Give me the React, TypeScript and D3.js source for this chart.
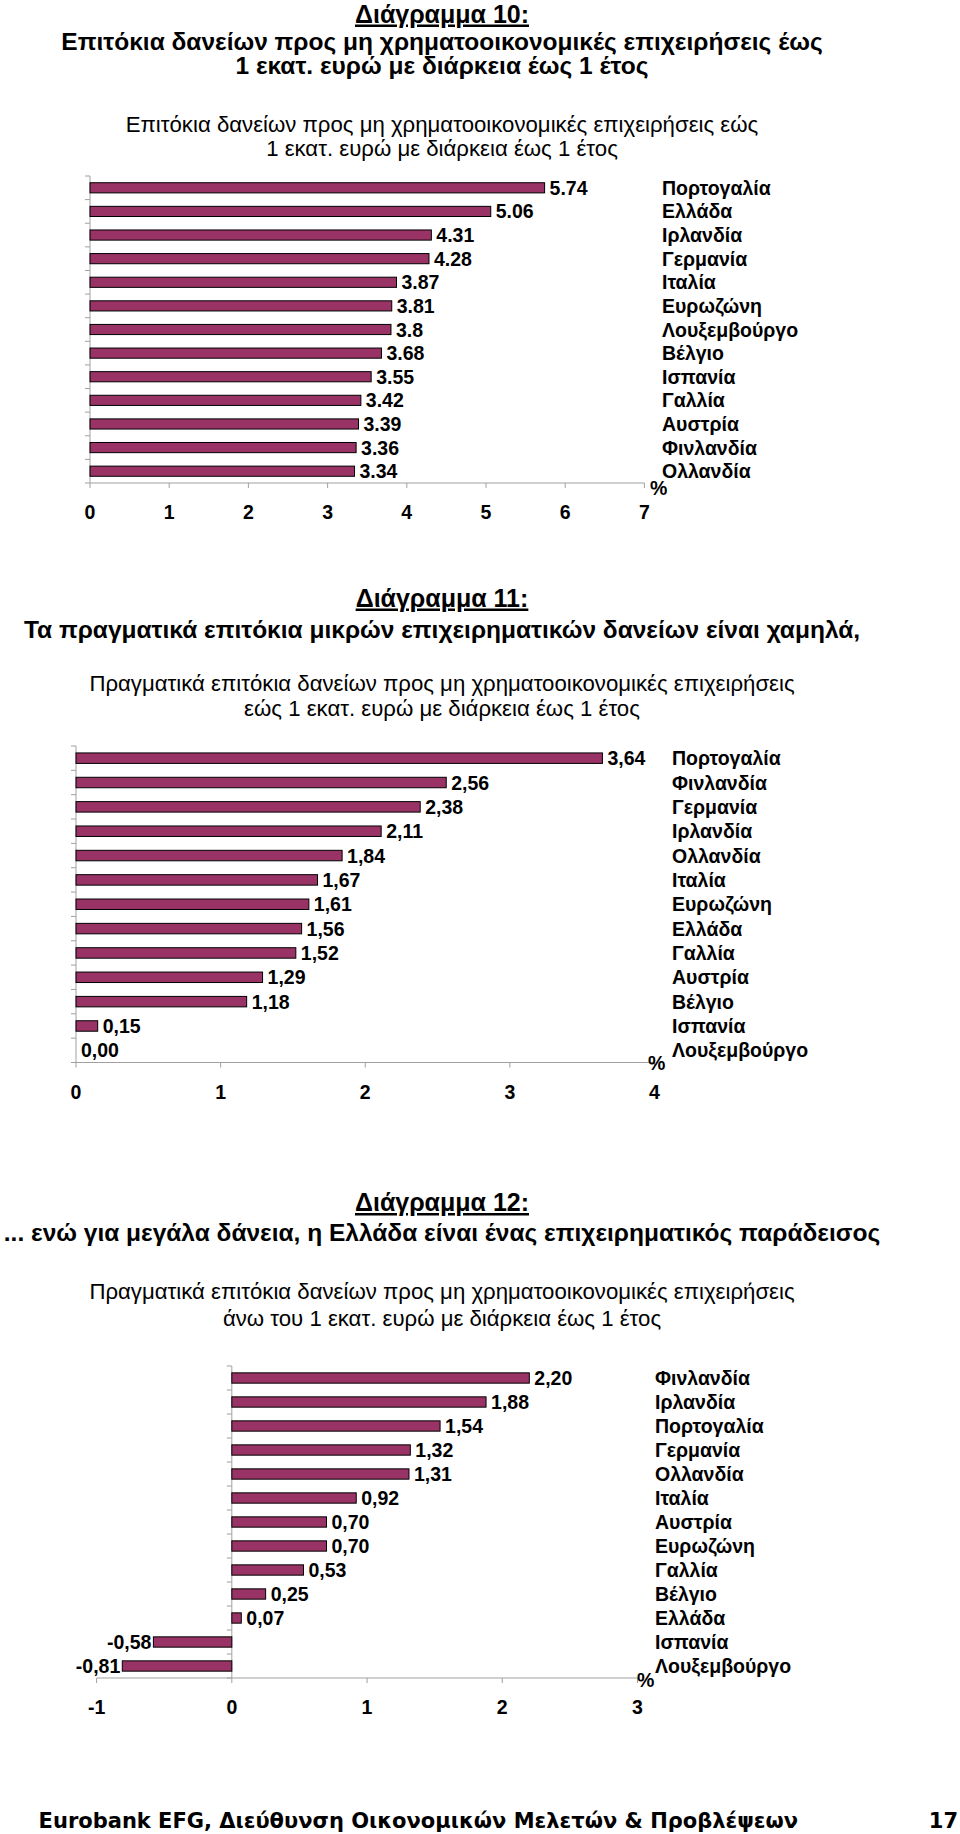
import React from "react";
import * as d3 from "d3";

// ---------- DATA ----------
const cats1 = ["Πορτογαλία","Ελλάδα","Ιρλανδία","Γερμανία","Ιταλία","Ευρωζώνη","Λουξεμβούργο","Βέλγιο","Ισπανία","Γαλλία","Αυστρία","Φινλανδία","Ολλανδία"];
const vals1 = [5.74,5.06,4.31,4.28,3.87,3.81,3.8,3.68,3.55,3.42,3.39,3.36,3.34];
const ticks1 = [0,1,2,3,4,5,6,7];

const cats2 = ["Πορτογαλία","Φινλανδία","Γερμανία","Ιρλανδία","Ολλανδία","Ιταλία","Ευρωζώνη","Ελλάδα","Γαλλία","Αυστρία","Βέλγιο","Ισπανία","Λουξεμβούργο"];
const vals2 = [3.64,2.56,2.38,2.11,1.84,1.67,1.61,1.56,1.52,1.29,1.18,0.15,0.0];
const ticks2 = [0,1,2,3,4];

const cats3 = ["Φινλανδία","Ιρλανδία","Πορτογαλία","Γερμανία","Ολλανδία","Ιταλία","Αυστρία","Ευρωζώνη","Γαλλία","Βέλγιο","Ελλάδα","Ισπανία","Λουξεμβούργο"];
const vals3 = [2.20,1.88,1.54,1.32,1.31,0.92,0.70,0.70,0.53,0.25,0.07,-0.58,-0.81];
const ticks3 = [-1,0,1,2,3];

const header1 = "Διάγραμμα 10:";
const title1 = ["Επιτόκια δανείων προς μη χρηματοοικονομικές επιχειρήσεις έως","1 εκατ. ευρώ με διάρκεια έως 1 έτος"];
const sub1 = ["Επιτόκια δανείων προς μη χρηματοοικονομικές επιχειρήσεις εώς","1 εκατ. ευρώ με διάρκεια έως 1 έτος"];
const header2 = "Διάγραμμα 11:";
const title2 = ["Τα πραγματικά επιτόκια μικρών επιχειρηματικών δανείων είναι χαμηλά,"];
const sub2 = ["Πραγματικά επιτόκια δανείων προς μη χρηματοοικονομικές επιχειρήσεις","εώς 1 εκατ. ευρώ με διάρκεια έως 1 έτος"];
const header3 = "Διάγραμμα 12:";
const title3 = ["... ενώ για μεγάλα δάνεια, η Ελλάδα είναι ένας επιχειρηματικός παράδεισος"];
const sub3 = ["Πραγματικά επιτόκια δανείων προς μη χρηματοοικονομικές επιχειρήσεις","άνω του 1 εκατ. ευρώ με διάρκεια έως 1 έτος"];
const footer = "Eurobank EFG, Διεύθυνση Οικονομικών Μελετών & Προβλέψεων";
const pageNo = "17";

// ---------- STYLE ----------
const FONT = "'Liberation Sans', Arial, Helvetica, sans-serif";
const BAR = "#993366";
const AXIS = "#a0a0a0";
const CX = 442;

type ChartProps = {
  cats: string[]; vals: number[]; ticks: number[];
  xRange: [number, number]; yRange: [number, number];
  labelX: number; fmt: (v: number) => string;
  pct: [number, number];
};

function BarChart({ cats, vals, ticks, xRange, yRange, labelX, fmt, pct }: ChartProps) {
  const x = d3.scaleLinear().domain([ticks[0], ticks[ticks.length - 1]]).range(xRange);
  const y = d3.scaleBand<string>().domain(cats).range(yRange).paddingInner(0.57).paddingOuter(0.285);
  const x0 = x(0);
  const base = yRange[1];
  const step = y.step();
  const bounds = d3.range(cats.length + 1).map((i) => yRange[0] + i * step);
  return (
    <g fontFamily={FONT} fontWeight="bold" fontSize={19.5} fill="#000">
      {/* y axis */}
      <line x1={x0} x2={x0} y1={yRange[0]} y2={base} stroke={AXIS} strokeWidth={1} />
      {bounds.map((b, i) => (
        <line key={"yt" + i} x1={x0 - 5} x2={x0} y1={b} y2={b} stroke={AXIS} strokeWidth={1} />
      ))}
      {/* x axis */}
      <line x1={xRange[0]} x2={xRange[1]} y1={base} y2={base} stroke={AXIS} strokeWidth={1} />
      {ticks.map((t) => (
        <g key={"xt" + t}>
          <line x1={x(t)} x2={x(t)} y1={base} y2={base + 5} stroke={AXIS} strokeWidth={1} />
          <text x={x(t)} y={base + 36} textAnchor="middle">{t}</text>
        </g>
      ))}
      {/* bars */}
      {cats.map((c, i) => {
        const v = vals[i];
        const bx = Math.min(x(v), x0);
        const bw = Math.abs(x(v) - x0);
        const yc = (y(c) as number) + y.bandwidth() / 2;
        return (
          <g key={c}>
            {bw > 0 && (
              <rect x={bx} y={y(c)} width={bw} height={y.bandwidth()} fill={BAR} stroke="#000" strokeWidth={1} />
            )}
            <text x={v < 0 ? x(v) - 2 : x(v) + 5} y={yc + 7} textAnchor={v < 0 ? "end" : "start"}>{fmt(v)}</text>
            <text x={labelX} y={yc + 7}>{c}</text>
          </g>
        );
      })}
      <text x={pct[0]} y={pct[1]}>%</text>
    </g>
  );
}

function Titles({ header, title, sub, ys }: { header: string; title: string[]; sub: string[]; ys: number[] }) {
  let k = 1;
  return (
    <g fontFamily={FONT} textAnchor="middle" fill="#000">
      <text x={CX} y={ys[0]} fontWeight="bold" fontSize={25} textDecoration="underline">{header}</text>
      {title.map((t) => (
        <text key={"t" + t} x={CX} y={ys[k++]} fontWeight="bold" fontSize={24.5}>{t}</text>
      ))}
      {sub.map((t) => (
        <text key={"s" + t} x={CX} y={ys[k++]} fontSize={22.2}>{t}</text>
      ))}
    </g>
  );
}

const fmtDot = (v: number) => String(v);
const fmtComma = (v: number) => v.toFixed(2).replace(".", ",");

export default function App() {
  return (
    <svg width={960} height={1834} style={{ position: "absolute", left: 0, top: 0, background: "#fff" }}>
      <rect width={960} height={1834} fill="#fff" />
      <Titles header={header1} title={title1} sub={sub1} ys={[22.5, 49.5, 74, 132, 156]} />
      <BarChart cats={cats1} vals={vals1} ticks={ticks1} xRange={[90, 644.4]} yRange={[176, 483]} labelX={662} fmt={fmtDot} pct={[650, 495]} />

      <Titles header={header2} title={title2} sub={sub2} ys={[606.5, 638, 691, 715.5]} />
      <BarChart cats={cats2} vals={vals2} ticks={ticks2} xRange={[76, 654.5]} yRange={[746, 1062.5]} labelX={672} fmt={fmtComma} pct={[648, 1070]} />

      <Titles header={header3} title={title3} sub={sub3} ys={[1211, 1241, 1299, 1325.5]} />
      <BarChart cats={cats3} vals={vals3} ticks={ticks3} xRange={[96.6, 637.5]} yRange={[1366, 1678]} labelX={655} fmt={fmtComma} pct={[637, 1687]} />

      <text x={38.6} y={1828} fontFamily="'DejaVu Sans', Verdana, sans-serif" fontWeight="bold" fontSize={21}>{footer}</text>
      <text x={958} y={1828} textAnchor="end" fontFamily="'DejaVu Sans', Verdana, sans-serif" fontWeight="bold" fontSize={21}>{pageNo}</text>
    </svg>
  );
}
